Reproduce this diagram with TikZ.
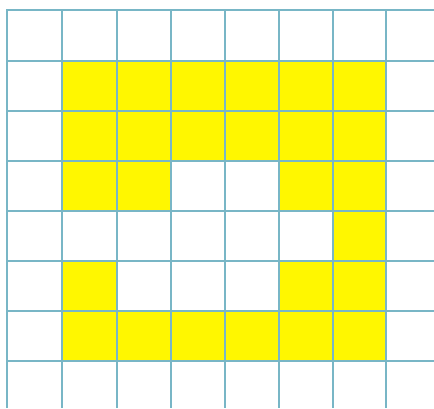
\documentclass[tikz,border=0pt]{standalone}
\definecolor{gridline}{RGB}{120,182,198}
\definecolor{cellyellow}{RGB}{255,247,0}
\tikzset{
  cell/.style={fill=cellyellow, draw=none},
  gridln/.style={draw=gridline, line width=2pt}
}
\begin{document}
\begin{tikzpicture}[x=1pt,y=-1pt]
\useasboundingbox (0,0) rectangle (434,408);
% column and row edges
\def\cx{{7,62,117,171,225,279,333,386,434}}
\def\ry{{10,61,111,161,211,261,311,361,408}}
% yellow cells: (col,row)
\foreach \c/\r in {1/1,2/1,3/1,4/1,5/1,6/1,
                   1/2,2/2,3/2,4/2,5/2,6/2,
                   1/3,2/3,5/3,6/3,
                   6/4,
                   1/5,5/5,6/5,
                   1/6,2/6,3/6,4/6,5/6,6/6}{
  \pgfmathsetmacro{\xa}{\cx[\c]}
  \pgfmathsetmacro{\xb}{\cx[\c+1]}
  \pgfmathsetmacro{\ya}{\ry[\r]}
  \pgfmathsetmacro{\yb}{\ry[\r+1]}
  \path[cell] (\xa,\ya) rectangle (\xb,\yb);
}
% grid lines
\foreach \x in {7,62,117,171,225,279,333,386}{
  \draw[gridln] (\x,9) -- (\x,408);
}
\foreach \y in {10,61,111,161,211,261,311,361}{
  \draw[gridln] (6,\y) -- (434,\y);
}
\end{tikzpicture}
\end{document}
